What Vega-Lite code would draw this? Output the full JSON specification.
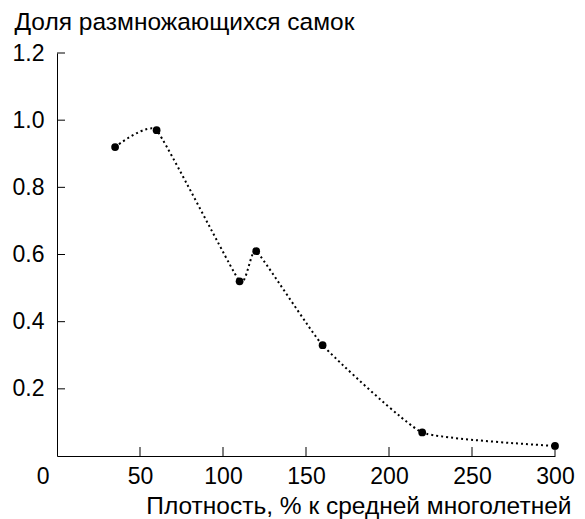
{
  "$schema": "https://vega.github.io/schema/vega-lite/v6.json",
  "autosize": "none",
  "width": 498,
  "height": 403,
  "padding": {"left": 57, "top": 53, "right": 30, "bottom": 63},
  "background": "white",
  "config": {
    "view": {"stroke": null},
    "axis": {
      "labelFont": "Liberation Sans",
      "titleFont": "Liberation Sans",
      "labelFontSize": 23,
      "titleFontSize": 24.5,
      "labelColor": "black",
      "titleColor": "black",
      "titleFontWeight": "normal",
      "domainColor": "black",
      "ticks": false,
      "grid": false
    }
  },
  "datasets": {
    "points": [
      {"density": 35, "share": 0.92},
      {"density": 60, "share": 0.97},
      {"density": 110, "share": 0.52},
      {"density": 120, "share": 0.61},
      {"density": 160, "share": 0.33},
      {"density": 220, "share": 0.07},
      {"density": 300, "share": 0.03}
    ],
    "xticks": [{"density": 50}, {"density": 100}, {"density": 150}, {"density": 200}, {"density": 250}, {"density": 300}],
    "yticks": [{"share": 0.2}, {"share": 0.4}, {"share": 0.6}, {"share": 0.8}, {"share": 1.0}, {"share": 1.2}]
  },
  "layer": [
    {
      "data": {"name": "points"},
      "mark": {"type": "line", "interpolate": "cardinal", "tension": 0.6, "color": "black", "strokeWidth": 2, "strokeDash": [2, 3]},
      "encoding": {
        "x": {
          "field": "density",
          "type": "quantitative",
          "scale": {"domain": [0, 300], "nice": false, "zero": true},
          "axis": {
            "values": [0, 50, 100, 150, 200, 250, 300],
            "labelPadding": 9,
            "labelAlign": {"condition": {"test": "datum.value === 0", "value": "right"}, "value": "center"},
            "labelOffset": {"condition": {"test": "datum.value === 0", "value": -8}, "value": 0},
            "title": "Плотность, % к средней многолетней",
            "titleAlign": "right",
            "titleAnchor": "end",
            "titleBaseline": "alphabetic",
            "titleX": 514,
            "titleY": 57
          }
        },
        "y": {
          "field": "share",
          "type": "quantitative",
          "scale": {"domain": [0, 1.2], "nice": false},
          "axis": {
            "values": [0.2, 0.4, 0.6, 0.8, 1.0, 1.2],
            "format": ".1f",
            "labelPadding": 13,
            "title": "Доля размножающихся самок",
            "titleAngle": 0,
            "titleAlign": "left",
            "titleAnchor": "start",
            "titleBaseline": "alphabetic",
            "titleX": -43,
            "titleY": -24
          }
        }
      }
    },
    {
      "data": {"name": "points"},
      "mark": {"type": "circle", "color": "black", "opacity": 1, "size": 60},
      "encoding": {
        "x": {"field": "density", "type": "quantitative", "scale": {"domain": [0, 300], "nice": false}},
        "y": {"field": "share", "type": "quantitative", "scale": {"domain": [0, 1.2], "nice": false}}
      }
    },
    {
      "data": {"name": "xticks"},
      "mark": {"type": "tick", "orient": "vertical", "color": "black", "thickness": 1, "size": 9, "yOffset": -4.5, "opacity": 1},
      "encoding": {
        "x": {"field": "density", "type": "quantitative", "scale": {"domain": [0, 300], "nice": false}},
        "y": {"datum": 0, "type": "quantitative", "scale": {"domain": [0, 1.2], "nice": false}}
      }
    },
    {
      "data": {"name": "yticks"},
      "mark": {"type": "tick", "orient": "horizontal", "color": "black", "thickness": 1, "size": 8, "xOffset": 4, "opacity": 1},
      "encoding": {
        "y": {"field": "share", "type": "quantitative", "scale": {"domain": [0, 1.2], "nice": false}},
        "x": {"datum": 0, "type": "quantitative", "scale": {"domain": [0, 300], "nice": false}}
      }
    }
  ]
}
